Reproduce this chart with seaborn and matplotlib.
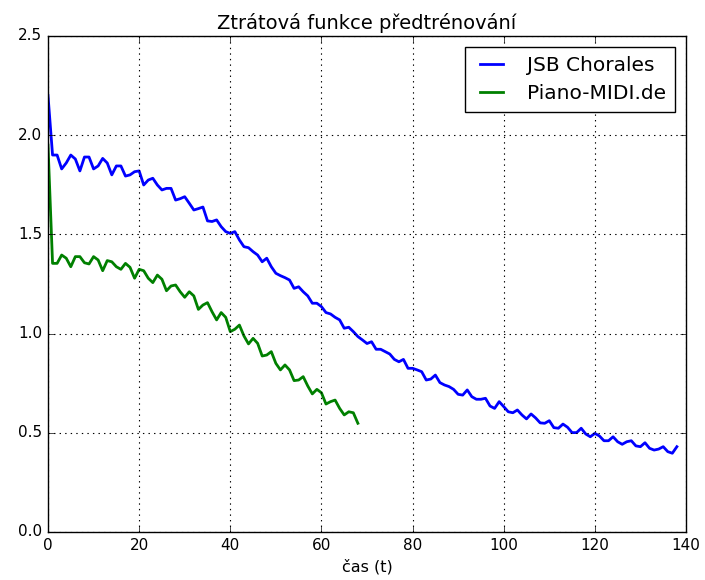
import matplotlib
matplotlib.use("Agg")
import matplotlib.pyplot as plt
import seaborn as sns
import numpy as np
import pandas as pd

title = "Ztrátová funkce předtrénování"
xlabel = "čas (t)"
series_names = ["JSB Chorales", "Piano-MIDI.de"]

jsb_loss = [
    2.20, 1.90, 1.90, 1.83, 1.86, 1.90, 1.88, 1.82, 1.89, 1.89,
    1.83, 1.845, 1.883, 1.86, 1.80, 1.845, 1.845, 1.794, 1.80, 1.816,
    1.82, 1.749, 1.774, 1.783, 1.749, 1.724, 1.732, 1.732, 1.673, 1.68,
    1.69, 1.657, 1.623, 1.63, 1.638, 1.568, 1.565, 1.573, 1.539, 1.514,
    1.505, 1.514, 1.472, 1.438, 1.433, 1.413, 1.396, 1.362, 1.38, 1.337,
    1.304, 1.292, 1.282, 1.27, 1.228, 1.236, 1.211, 1.19, 1.153, 1.153,
    1.136, 1.106, 1.099, 1.082, 1.069, 1.027, 1.032, 1.01, 0.985, 0.968,
    0.95, 0.959, 0.921, 0.921, 0.909, 0.897, 0.87, 0.858, 0.87, 0.825,
    0.825, 0.817, 0.808, 0.766, 0.771, 0.791, 0.753, 0.741, 0.733, 0.719,
    0.694, 0.69, 0.716, 0.682, 0.669, 0.669, 0.674, 0.635, 0.623, 0.657,
    0.632, 0.606, 0.601, 0.615, 0.59, 0.57, 0.595, 0.575, 0.55, 0.548,
    0.561, 0.526, 0.523, 0.544, 0.528, 0.501, 0.501, 0.523, 0.494, 0.48,
    0.497, 0.484, 0.46, 0.46, 0.48, 0.455, 0.442, 0.455, 0.46, 0.434,
    0.43, 0.45, 0.422, 0.413, 0.418, 0.43, 0.405, 0.397, 0.43,
]

piano_loss = [
    1.95, 1.354, 1.354, 1.396, 1.38, 1.337, 1.388, 1.388, 1.357, 1.351,
    1.388, 1.371, 1.317, 1.368, 1.362, 1.337, 1.324, 1.354, 1.334, 1.279,
    1.324, 1.317, 1.279, 1.257, 1.295, 1.274, 1.216, 1.24, 1.245, 1.211,
    1.183, 1.211, 1.19, 1.122, 1.144, 1.156, 1.11, 1.069, 1.106, 1.082,
    1.01, 1.022, 1.043, 0.988, 0.948, 0.976, 0.951, 0.887, 0.892, 0.909,
    0.85, 0.817, 0.842, 0.817, 0.763, 0.766, 0.783, 0.736, 0.696, 0.719,
    0.702, 0.645, 0.657, 0.665, 0.623, 0.59, 0.606, 0.601, 0.548,
]

xticks = [0, 20, 40, 60, 80, 100, 120, 140]
yticks = [0.0, 0.5, 1.0, 1.5, 2.0, 2.5]

plt.style.use("classic")
plt.rcParams["font.family"] = ["DejaVu Sans"]

df = pd.concat([
    pd.DataFrame({"t": np.arange(len(jsb_loss)), "loss": jsb_loss, "set": series_names[0]}),
    pd.DataFrame({"t": np.arange(len(piano_loss)), "loss": piano_loss, "set": series_names[1]}),
])

fig = plt.figure(figsize=(7.05, 5.8), dpi=100)
ax = fig.add_axes([48 / 705, 48 / 580, (686 - 48) / 705, (532 - 36) / 580])
sns.lineplot(data=df, x="t", y="loss", hue="set",
             palette={series_names[0]: "#0000ff", series_names[1]: "#008000"},
             linewidth=2, ax=ax, legend=True)

ax.set_xlim(0, 140)
ax.set_ylim(0, 2.5)
ax.set_xticks(xticks)
ax.set_yticks(yticks)
ax.set_xticklabels([str(v) for v in xticks], fontsize=11)
ax.set_yticklabels([f"{v:.1f}" for v in yticks], fontsize=11)
ax.grid(True, color="black", linestyle=":", linewidth=0.8)
ax.set_title(title, fontsize=14)
ax.set_xlabel(xlabel, fontsize=11.5)
ax.set_ylabel("")
ax.tick_params(direction="in", top=True, right=True, length=4)

handles, labels = ax.get_legend_handles_labels()
leg = ax.legend(handles, labels, loc="upper right", fontsize=14.5, frameon=True,
                handlelength=1.7, handletextpad=0.9, borderpad=0.45,
                labelspacing=0.45, borderaxespad=0.55)
leg.get_frame().set_edgecolor("black")

fig.savefig("out.png", dpi=100)
